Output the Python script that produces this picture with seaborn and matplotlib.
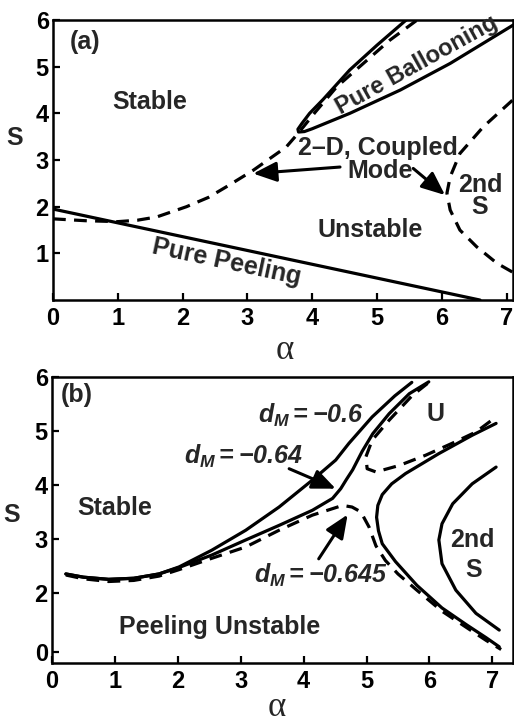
import matplotlib
matplotlib.use("Agg")
import matplotlib.pyplot as plt
import seaborn as sns

# ---------------- panel (a): ideal stability boundaries ----------------
peel_alpha = [0.0, 6.59]
peel_s = [1.95, 0.0]

coupled_alpha = [0.0, 0.5, 1.0, 1.3, 1.6, 2.06, 2.4, 2.68, 3.09, 3.6, 3.8, 4.05, 4.38, 4.79, 5.2, 5.62]
coupled_s = [1.74, 1.70, 1.68, 1.71, 1.78, 2.0, 2.2, 2.43, 2.78, 3.28, 3.6, 4.03, 4.57, 5.07, 5.57, 6.0]

balloon_alpha = [5.45, 5.0, 4.58, 4.17, 3.96, 3.84, 3.78, 3.79, 3.88, 4.0, 4.58, 5.36, 6.13, 7.1]
balloon_s = [6.0, 5.46, 4.93, 4.3, 4.0, 3.78, 3.66, 3.6, 3.61, 3.67, 4.0, 4.5, 5.07, 5.89]

second_alpha = [7.09, 6.64, 6.28, 6.13, 6.08, 6.13, 6.28, 6.54, 6.85, 7.09]
second_s = [4.28, 3.71, 3.14, 2.64, 2.29, 1.93, 1.5, 1.14, 0.79, 0.6]

# ---------------- panel (b): boundaries for several d_M ----------------
dm060_alpha = [0.22, 0.5, 0.9, 1.3, 1.7, 2.02, 2.54, 3.08, 3.61, 4.14, 4.51, 4.72, 5.09, 5.45, 5.72]
dm060_s = [2.35, 2.29, 2.25, 2.27, 2.35, 2.48, 2.79, 3.16, 3.59, 4.09, 4.46, 4.77, 5.26, 5.65, 5.9]

dm064_alpha = [0.22, 0.5, 0.9, 1.3, 1.7, 2.02, 2.54, 3.08, 3.61, 4.14, 4.46, 4.59, 4.68, 4.78,
               4.93, 5.1, 5.36, 5.68, 5.99]
dm064_s = [2.35, 2.29, 2.25, 2.27, 2.35, 2.47, 2.70, 2.98, 3.25, 3.53, 3.75, 3.93, 4.1, 4.28,
           4.62, 4.95, 5.32, 5.69, 5.91]

dm0645_low_alpha = [0.22, 0.5, 0.9, 1.3, 1.7, 2.02, 2.54, 3.08, 3.61, 4.14, 4.62, 4.77, 4.91,
                    5.04, 5.15, 5.3, 5.5, 5.8, 6.2, 6.6, 6.9, 7.14]
dm0645_low_s = [2.33, 2.26, 2.21, 2.23, 2.31, 2.43, 2.64, 2.85, 3.16, 3.44, 3.62, 3.59, 3.5,
                3.22, 2.87, 2.6, 2.35, 2.05, 1.66, 1.35, 1.12, 0.95]

dm0645_up_alpha = [5.97, 5.73, 5.36, 5.09, 4.99, 5.01, 5.15, 5.52, 5.94, 6.36, 6.74, 7.06]
dm0645_up_s = [5.88, 5.66, 5.2, 4.83, 4.52, 4.30, 4.24, 4.36, 4.55, 4.77, 4.98, 5.26]

outer_alpha = [7.06, 6.68, 6.15, 5.62, 5.4, 5.25, 5.18, 5.16, 5.19, 5.25, 5.46, 5.8, 6.2, 6.6, 6.9, 7.11]
outer_s = [5.14, 4.92, 4.58, 4.21, 4.02, 3.82, 3.62, 3.4, 3.15, 2.91, 2.58, 2.14, 1.72, 1.4, 1.17, 1.0]

inner_alpha = [7.06, 6.68, 6.37, 6.2, 6.15, 6.2, 6.42, 6.74, 7.11]
inner_s = [4.33, 4.02, 3.65, 3.28, 2.98, 2.54, 2.05, 1.62, 1.31]

a_xticks = [0, 1, 2, 3, 4, 5, 6, 7]
a_yticks = [1, 2, 3, 4, 5, 6]
b_xticks = [0, 1, 2, 3, 4, 5, 6, 7]
b_yticks = [0.9, 2, 3, 4, 5, 6]
b_yticklabels = ["0", "2", "3", "4", "5", "6"]

sns.set_theme(style="ticks")
plt.rcParams["font.family"] = ["Liberation Sans", "DejaVu Sans"]
plt.rcParams["font.weight"] = "bold"
plt.rcParams["axes.labelweight"] = "bold"
plt.rcParams["mathtext.fontset"] = "custom"
plt.rcParams["mathtext.rm"] = "Liberation Sans:italic:bold"
plt.rcParams["mathtext.it"] = "Liberation Sans:italic:bold"
plt.rcParams["mathtext.bf"] = "Liberation Sans:italic:bold"

LW = 2.3
DASH = (0, (4.0, 2.6))
TXT = 18


def curve(ax, xs, ys, dashed=False):
    sns.lineplot(x=xs, y=ys, sort=False, estimator=None, color="black", lw=LW,
                 linestyle=DASH if dashed else "-", ax=ax)


def arrow(ax, start, end):
    ax.annotate("", xy=end, xytext=start,
                arrowprops=dict(arrowstyle="-|>,head_length=0.75,head_width=0.32",
                                color="black", lw=2.2, mutation_scale=19,
                                shrinkA=0, shrinkB=0))


def style_axes(ax, xlim, ylim, xticks, yticks, ylabels, alpha_xy, s_xy):
    ax.set_xlim(*xlim)
    ax.set_ylim(*ylim)
    ax.set_xticks(xticks)
    ax.set_xticklabels([str(t) for t in xticks])
    ax.set_yticks(yticks)
    ax.set_yticklabels(ylabels)
    for sp in ax.spines.values():
        sp.set_visible(True)
        sp.set_linewidth(1.8)
        sp.set_color("black")
    ax.tick_params(axis="both", direction="in", length=5, width=1.6, colors="black",
                   labelsize=17, top=False, right=False)
    ax.tick_params(axis="x", pad=5)
    ax.tick_params(axis="y", pad=3)
    ax.set_xlabel("α", family=["Liberation Serif", "DejaVu Serif"], fontweight="normal",
                  fontsize=25, va="center")
    ax.xaxis.set_label_coords(*alpha_xy)
    ax.set_ylabel("S", rotation=0, fontsize=TXT, fontweight="bold", va="center", ha="center")
    ax.yaxis.set_label_coords(*s_xy)


fig = plt.figure(figsize=(5.14, 7.23), dpi=100)
ax_a = fig.add_axes([0.1031, 0.585, 0.895, 0.3873])
ax_b = fig.add_axes([0.1012, 0.083, 0.897, 0.3956])

# ---- panel (a)
curve(ax_a, peel_alpha, peel_s)
curve(ax_a, coupled_alpha, coupled_s, dashed=True)
curve(ax_a, balloon_alpha, balloon_s)
curve(ax_a, second_alpha, second_s, dashed=True)
arrow(ax_a, (4.43, 2.85), (3.09, 2.71))
arrow(ax_a, (5.56, 2.82), (6.05, 2.25))

ax_a.text(0.49, 5.52, "(a)", fontsize=TXT, ha="center", va="center")
ax_a.text(1.49, 4.24, "Stable", fontsize=TXT, ha="center", va="center")
ax_a.text(5.61, 5.03, "Pure Ballooning", fontsize=17, ha="center", va="center",
          rotation=29, rotation_mode="anchor")
ax_a.text(5.02, 3.25, "2–D, Coupled", fontsize=TXT, ha="center", va="center")
ax_a.text(5.05, 2.76, "Mode", fontsize=TXT, ha="center", va="center")
ax_a.text(6.59, 2.46, "2nd", fontsize=TXT, ha="center", va="center")
ax_a.text(6.59, 1.99, "S", fontsize=TXT, ha="center", va="center")
ax_a.text(4.89, 1.5, "Unstable", fontsize=TXT, ha="center", va="center")
ax_a.text(2.68, 0.81, "Pure Peeling", fontsize=TXT, ha="center", va="center",
          rotation=-12, rotation_mode="anchor")

style_axes(ax_a, (0, 7.1), (0, 6), a_xticks, a_yticks, [str(t) for t in a_yticks],
           (0.504, -0.179), (-0.083, 0.579))

# ---- panel (b)
curve(ax_b, dm060_alpha, dm060_s)
curve(ax_b, dm064_alpha, dm064_s)
curve(ax_b, dm0645_low_alpha, dm0645_low_s, dashed=True)
curve(ax_b, dm0645_up_alpha, dm0645_up_s, dashed=True)
curve(ax_b, outer_alpha, outer_s)
curve(ax_b, inner_alpha, inner_s)
arrow(ax_b, (3.77, 4.3), (4.51, 3.93))
arrow(ax_b, (4.24, 2.63), (4.7, 3.45))

ax_b.text(0.40, 5.67, "(b)", fontsize=TXT, ha="center", va="center")
ax_b.text(1.0, 3.57, "Stable", fontsize=TXT, ha="center", va="center")
ax_b.text(2.67, 1.37, "Peeling Unstable", fontsize=TXT, ha="center", va="center")
ax_b.text(4.12, 5.28, r"$d_M = -0.6$", fontsize=TXT, ha="center", va="center")
ax_b.text(3.04, 4.53, r"$d_M = -0.64$", fontsize=TXT, ha="center", va="center")
ax_b.text(4.28, 2.33, r"$d_M{=}{-}0.645$", fontsize=TXT, ha="center", va="center")
ax_b.text(6.1, 5.32, "U", fontsize=TXT, ha="center", va="center")
ax_b.text(6.68, 2.98, "2nd", fontsize=TXT, ha="center", va="center")
ax_b.text(6.71, 2.43, "S", fontsize=TXT, ha="center", va="center")

style_axes(ax_b, (0, 7.33), (0.70, 6), b_xticks, b_yticks, b_yticklabels,
           (0.488, -0.157), (-0.087, 0.517))

fig.savefig("out.png", dpi=100, facecolor="white")
